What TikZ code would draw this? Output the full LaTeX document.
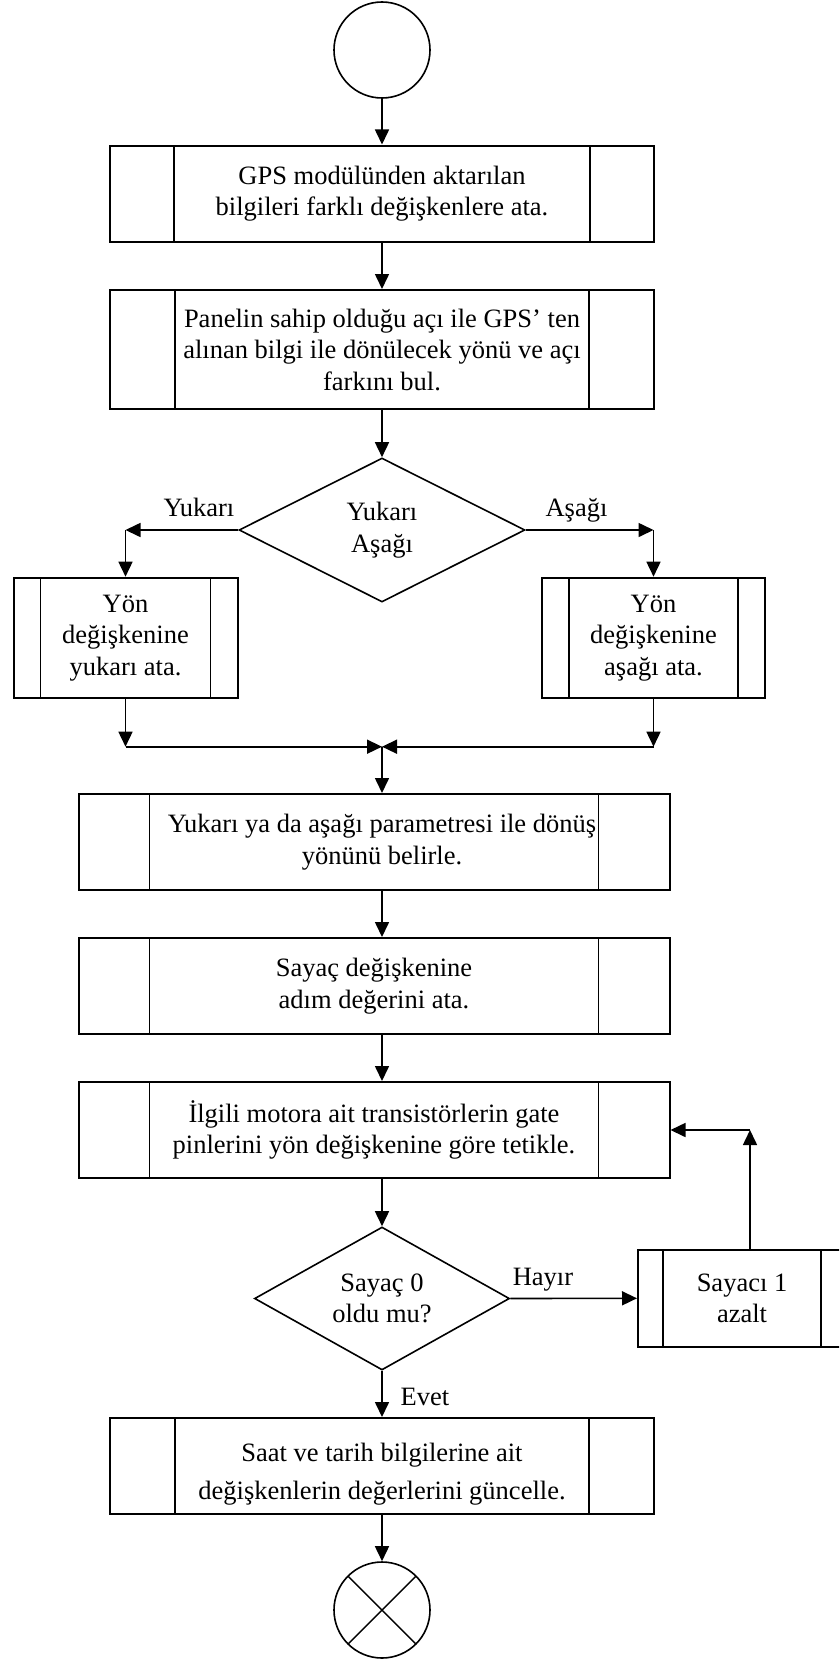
\documentclass[tikz,border=0pt]{standalone}
\usepackage{fontspec}
\setmainfont{Liberation Serif}
\usetikzlibrary{shapes.geometric,arrows.meta,calc}
\begin{document}
\begin{tikzpicture}[x=1pt,y=-1pt,
  font=\fontsize{26.5}{31.5}\selectfont,
  line width=1.6pt,
  arr/.style={-{Triangle[length=15pt,width=14pt]}},
  procbox/.style={draw, rectangle, line width=2pt, inner sep=0pt, align=center,
    path picture={\draw[line width=1.4pt]
      ([xshift=#1]path picture bounding box.north west) -- ([xshift=#1]path picture bounding box.south west)
      ([xshift=-#1]path picture bounding box.north east) -- ([xshift=-#1]path picture bounding box.south east);}},
  decision/.style={draw, diamond, aspect=2, inner sep=0pt, align=center},
  terminal/.style={draw, circle, minimum size=96pt, inner sep=0pt},
  lbl/.style={anchor=base, inner sep=0pt}]
\clip (0,0) rectangle (839,1659);

% start and the main column
\node[terminal] (start) at (382,50) {};
\node[procbox=64pt, minimum width=544pt, minimum height=96pt] (b1) at (382,193.5)
  {GPS modülünden aktarılan\\bilgileri farklı değişkenlere ata.};
\node[procbox=65pt, minimum width=544pt, minimum height=119pt] (b2) at (382,349.5)
  {Panelin sahip olduğu açı ile GPS’ ten\\alınan bilgi ile dönülecek yönü ve açı\\farkını bul.};
\node[decision, minimum width=286pt, minimum height=144pt] (d1) at (382,530) {Yukarı\\Aşağı};

% the two branches
\node[procbox=27pt, minimum width=224pt, minimum height=120pt] (b3) at (125.5,637.7)
  {Yön\\değişkenine\\yukarı ata.};
\node[procbox=27pt, minimum width=223pt, minimum height=120pt] (b4) at (653.5,637.7)
  {Yön\\değişkenine\\aşağı ata.};
\coordinate (j) at (382,746.7);

\node[procbox=71pt, minimum width=591pt, minimum height=96pt] (b5) at (374,842)
  {\hspace*{16pt}Yukarı ya da aşağı parametresi ile dönüş\\\hspace*{16pt}yönünü belirle.};
\node[procbox=71pt, minimum width=591pt, minimum height=96pt] (b6) at (374,986)
  {Sayaç değişkenine\\adım değerini ata.};
\node[procbox=71pt, minimum width=591pt, minimum height=96pt] (b7) at (374,1130)
  {İlgili motora ait transistörlerin gate\\pinlerini yön değişkenine göre tetikle.};
\node[decision, minimum width=255pt, minimum height=143pt] (d2) at (382,1298.5) {Sayaç 0\\oldu mu?};
\node[procbox=25pt, minimum width=208pt, minimum height=96.7pt] (b8) at (742,1298.3) {Sayacı 1\\azalt};
\coordinate (fb) at (750,1130);
\node[procbox=65pt, minimum width=544pt, minimum height=96pt] (b9) at (382,1466) {};
\node[align=center, inner sep=0pt] (t9) at ($(b9.center)+(0,8)$)
  {Saat ve tarih bilgilerine ait\\[6pt]değişkenlerin değerlerini güncelle.};
\node[terminal, path picture={\draw[line width=1.4pt]
    (path picture bounding box.north west) -- (path picture bounding box.south east)
    (path picture bounding box.south west) -- (path picture bounding box.north east);}]
  (end) at (382,1610) {};

% labels on the branches
\node[lbl] (lyuk) at (199,516) {Yukarı};
\node[lbl] (lasa) at (576.5,516) {Aşağı};
\node[lbl] (lhay) at (543,1285) {Hayır};
\node[lbl] (levet) at (425,1405) {Evet};

% connectors
\draw[arr] (start) -- (b1);
\draw[arr] (b1) -- (b2);
\draw[arr] (b2) -- (d1);
\draw[arr] (d1.west) -- (d1.west -| b3.north);
\draw[arr] (d1.west -| b3.north) -- (b3.north);
\draw[arr] (d1.east) -- (d1.east -| b4.north);
\draw[arr] (d1.east -| b4.north) -- (b4.north);
\draw[arr] (b3.south) -- (b3.south |- j);
\draw[arr] (b3.south |- j) -- (j);
\draw[arr] (b4.south) -- (b4.south |- j);
\draw[arr] (b4.south |- j) -- (j);
\draw[arr] (j) -- (j |- b5.north);
\draw[arr] (j |- b5.south) -- (j |- b6.north);
\draw[arr] (j |- b6.south) -- (j |- b7.north);
\draw[arr] (j |- b7.south) -- (d2.north);
\draw[arr] (d2.east) -- (b8.west);
\draw[arr] (fb |- b8.north) -- (fb);
\draw[arr] (fb) -- (fb -| b7.east);
\draw[arr] (d2.south) -- (b9.north);
\draw[arr] (b9) -- (end);
\end{tikzpicture}
\end{document}
